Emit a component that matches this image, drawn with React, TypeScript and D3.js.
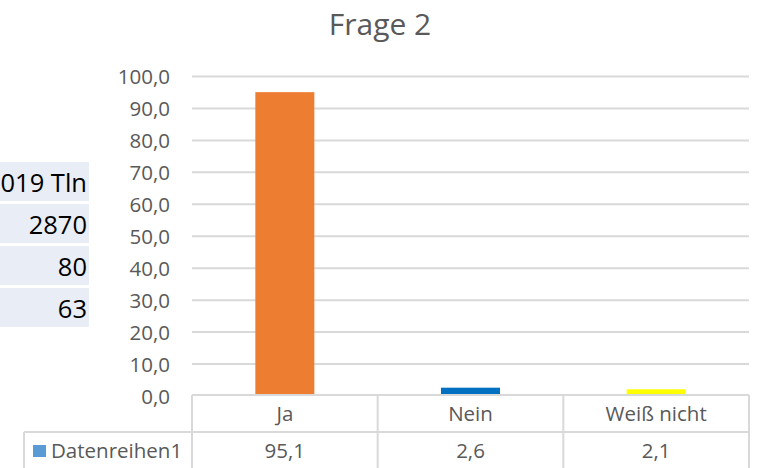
import { useEffect, useRef } from "react"
import * as d3 from "d3"

const categories = ["Ja", "Nein", "Weiß nicht"]
const values = [95.1, 2.6, 2.1]
const barColors = ["#ED7D31", "#0070C0", "#FFFF00"]
const yTicks = [0, 10, 20, 30, 40, 50, 60, 70, 80, 90, 100]
const seriesName = "Datenreihen1"
// left strip of a neighbouring table, cut off by the picture's edge
const sideLabels = ["019 Tln", "2870", "80", "63"]

const W = 759
const H = 468
const fmt = (v: number) => v.toFixed(1).replace(".", ",")

const App = () => {
    const ref = useRef<SVGSVGElement>(null)

    useEffect(() => {
        const svg = d3.select(ref.current)
        svg.selectAll("*").remove()

        const font = "'Open Sans', sans-serif"
        const grey = "#595959"
        const line = "#d9d9d9"
        const fs = 20.5

        const x = d3.scaleBand().domain(categories).range([192, 749]).paddingInner(0).paddingOuter(0)
        const y = d3.scaleLinear().domain([0, 100]).range([396, 76.5])

        // side table
        const side = svg.append("g")
        sideLabels.forEach((t, i) => {
            const top = 162 + i * 42
            side.append("rect")
                .attr("x", 0).attr("y", top)
                .attr("width", 89).attr("height", 39)
                .attr("fill", "#E9EDF5")
            side.append("text")
                .attr("x", 87).attr("y", top + 30)
                .attr("text-anchor", "end")
                .attr("font-family", font).attr("font-size", 25.5)
                .attr("fill", "#000")
                .text(t)
        })

        svg.append("text")
            .attr("x", 380).attr("y", 35)
            .attr("text-anchor", "middle")
            .attr("font-family", font).attr("font-size", 30)
            .attr("fill", grey)
            .text("Frage 2")

        // gridlines + y labels
        const grid = svg.append("g")
        grid.selectAll("line").data(yTicks.filter(d => d > 0)).enter()
            .append("line")
            .attr("x1", 192).attr("x2", 749)
            .attr("y1", d => y(d)).attr("y2", d => y(d))
            .attr("stroke", line).attr("stroke-width", 2)
        grid.selectAll("text").data(yTicks).enter()
            .append("text")
            .attr("x", 170).attr("y", d => y(d) + 7.5)
            .attr("text-anchor", "end")
            .attr("font-family", font).attr("font-size", fs)
            .attr("fill", grey)
            .text(d => fmt(d))

        // bars
        const barW = 59
        svg.append("g").selectAll("rect").data(values).enter()
            .append("rect")
            .attr("x", (d, i) => x(categories[i])! + x.bandwidth() / 2 - barW / 2)
            .attr("y", d => y(d))
            .attr("width", barW)
            .attr("height", d => y(0) - y(d))
            .attr("fill", (d, i) => barColors[i])

        // data table
        const tbl = svg.append("g")
        const rowTop = 395
        const rowMid = 432
        const rowBot = 470
        tbl.append("line").attr("x1", 192).attr("x2", 749).attr("y1", rowTop).attr("y2", rowTop)
        tbl.append("line").attr("x1", 24).attr("x2", 749).attr("y1", rowMid).attr("y2", rowMid)
        tbl.append("line").attr("x1", 24).attr("x2", 24).attr("y1", rowMid).attr("y2", rowBot)
        const edges = categories.map(c => x(c)!).concat([749])
        edges.forEach(e => {
            tbl.append("line").attr("x1", e).attr("x2", e).attr("y1", rowTop).attr("y2", rowBot)
        })
        tbl.selectAll("line").attr("stroke", line).attr("stroke-width", 2)

        categories.forEach((c, i) => {
            const cx = x(c)! + x.bandwidth() / 2
            tbl.append("text")
                .attr("x", cx).attr("y", 421)
                .attr("text-anchor", "middle")
                .attr("font-family", font).attr("font-size", fs)
                .attr("fill", grey)
                .text(c)
            tbl.append("text")
                .attr("x", cx).attr("y", 458)
                .attr("text-anchor", "middle")
                .attr("font-family", font).attr("font-size", fs)
                .attr("fill", grey)
                .text(fmt(values[i]))
        })

        tbl.append("rect")
            .attr("x", 33).attr("y", 445)
            .attr("width", 13).attr("height", 12)
            .attr("fill", "#5B9BD5")
        tbl.append("text")
            .attr("x", 51).attr("y", 458)
            .attr("font-family", font).attr("font-size", fs)
            .attr("fill", grey)
            .text(seriesName)
    })

    return (
        <svg
            ref={ref}
            width={W}
            height={H}
            style={{ position: "fixed", left: 0, top: 0, background: "#fff" }}
        />
    )
}

export default App
